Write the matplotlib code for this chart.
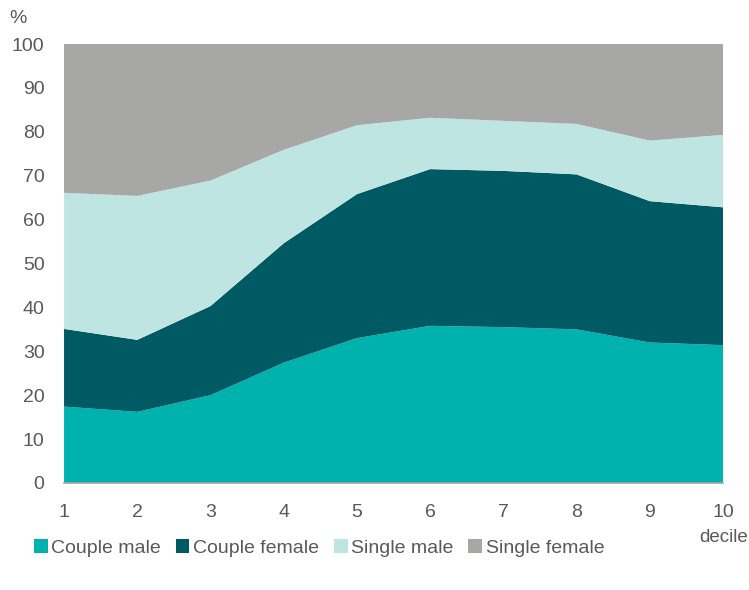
import numpy as np
from matplotlib import pyplot as plt
from matplotlib.patches import Patch

deciles = np.arange(1, 11)
couple_male = [17.4, 16.2, 20.0, 27.4, 33.0, 35.8, 35.5, 35.0, 32.0, 31.4]
couple_female = [17.7, 16.4, 20.3, 27.2, 32.8, 35.7, 35.6, 35.3, 32.2, 31.4]
single_male = [31.0, 32.8, 28.6, 21.3, 15.7, 11.7, 11.4, 11.5, 13.8, 16.5]
single_female = [33.9, 34.6, 31.1, 24.1, 18.5, 16.8, 17.5, 18.2, 22.0, 20.7]

labels = ["Couple male", "Couple female", "Single male", "Single female"]
colors = ["#00B2AE", "#005A64", "#BFE5E2", "#A7A7A6"]
txt = "#595959"

plt.rcParams["font.family"] = ["Liberation Sans", "DejaVu Sans"]

fig = plt.figure(figsize=(7.49, 5.90), dpi=100)
ax = fig.add_axes([0.0855, 0.1814, 0.8798, 0.744])
ax.stackplot(deciles, couple_male, couple_female, single_male, single_female,
             colors=colors, linewidth=0)

ax.set_xlim(1, 10)
ax.set_ylim(0, 100)
ax.set_yticks(range(0, 101, 10))
ax.set_xticks(deciles)
ax.tick_params(length=0, labelsize=14, colors=txt)
ax.tick_params(axis="y", pad=14)
ax.tick_params(axis="x", pad=15)
for s in ["top", "right", "left"]:
    ax.spines[s].set_visible(False)
ax.spines["bottom"].set_color("#A6A6A6")
ax.spines["bottom"].set_linewidth(1.2)

fig.text(0.012, 0.968, "%", fontsize=14, color=txt, va="center", ha="left")
fig.text(0.998, 0.089, "decile", fontsize=13.5, color=txt, ha="right", va="center")

handles = [Patch(facecolor=c, edgecolor="none") for c in colors]
fig.legend(handles, labels, ncol=4, frameon=False, loc="center left",
           bbox_to_anchor=(0.022, 0.071), fontsize=14, labelcolor=txt,
           handlelength=0.7, handleheight=0.7, handletextpad=0.2,
           columnspacing=0.75)

fig.savefig("out.png", dpi=100)
